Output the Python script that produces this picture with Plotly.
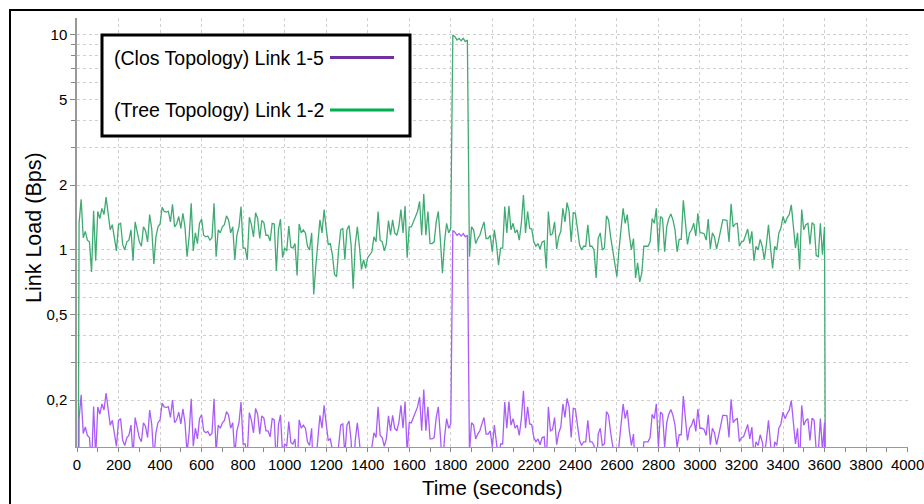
import plotly.graph_objects as go

# Sample times (seconds), one sample every 10 s
time_s = list(range(0, 3620, 10))

# Tree topology, link 1-2 load (Bps)
tree_link_1_2 = (
    [0.0]
    + [1.33, 1.72, 1.14, 1.22, 1.11, 1.09, 0.79, 1.52, 0.89, 1.51,
       1.40, 1.56, 1.46, 1.76, 1.48, 1.24, 1.31, 1.11, 0.99, 1.31,
       1.33, 1.06, 1.00, 1.09, 1.11, 1.24, 0.89, 1.35, 1.20, 1.09,
       1.04, 1.28, 1.23, 1.09, 1.46, 1.25, 0.86, 1.15, 1.28, 1.32,
       1.58, 1.51, 1.50, 1.51, 1.35, 1.63, 1.28, 1.32, 1.43, 1.26,
       1.48, 1.28, 0.93, 1.15, 1.65, 0.99, 1.20, 1.07, 1.33, 1.39,
       1.17, 1.15, 1.16, 1.11, 1.14, 1.65, 0.93, 1.24, 1.20, 1.28,
       1.31]
    + [1.44, 1.38, 1.20, 1.28, 0.90, 1.17, 1.28, 1.59, 1.02, 1.02,
       0.90, 1.42, 1.31, 1.15, 1.49, 1.40, 1.13, 1.37, 1.34, 1.17,
       1.17, 1.10, 1.33, 1.32, 0.80, 1.24, 1.39, 0.92, 1.02, 0.99,
       1.29, 1.03, 1.02, 1.07, 0.76, 1.32, 1.20, 1.24, 1.20, 1.04,
       1.00, 1.20, 0.62, 0.84, 1.13, 1.38, 1.20, 1.54, 1.26, 1.06,
       1.07, 0.95, 0.77, 0.75, 1.00, 1.24, 1.26, 0.90, 1.24, 1.30,
       1.06, 0.66, 1.06, 1.28, 1.04, 0.81, 0.90, 0.82, 0.92, 0.95,
       0.98, 1.15]
    + [1.09, 1.51, 1.11, 1.09, 0.99, 1.07, 1.37, 1.17, 1.38, 1.20,
       1.17, 1.28, 1.54, 1.20, 1.60, 0.92, 1.28, 1.28, 1.35, 1.43,
       1.51, 1.68, 1.17, 1.82, 1.17, 1.51, 1.07, 1.07, 1.09, 1.35,
       1.51, 1.11, 0.78, 1.09, 1.33, 1.20, 1.26]
    + [10.0, 9.82, 9.48, 9.65, 9.41, 9.65, 9.32, 9.48]
    + [0.93, 1.28, 1.24, 1.07, 1.13, 1.17, 1.26, 1.35, 1.13, 1.13,
       1.17, 0.98, 1.24, 1.06, 0.85, 1.02, 1.02, 1.59, 1.20, 1.60,
       1.24, 1.33, 1.20, 1.24, 1.11, 1.33, 1.80, 1.20, 1.51, 1.26,
       1.25, 1.09, 1.04, 1.07, 1.01, 1.09, 1.10, 0.82, 1.51, 1.17,
       1.19, 1.35, 1.01, 1.15, 1.22, 1.56, 1.35, 1.66, 1.51, 1.09,
       1.49, 1.48, 1.26, 1.06, 1.00, 1.04, 1.04, 1.31, 1.04, 1.04,
       1.00, 0.74, 1.13, 1.20, 1.00, 1.02, 1.44, 1.38, 1.15, 1.00,
       0.90, 0.75, 1.00, 1.28, 1.56, 1.33, 1.46, 1.17, 1.00, 1.13,
       0.74, 0.87, 0.71, 0.78, 1.04, 1.04, 1.04, 1.09, 1.40, 1.33,
       1.56, 0.98, 1.43, 1.40, 0.98, 1.28, 1.40, 1.47, 1.38, 1.24]
    + [0.98, 1.12, 1.12, 1.70, 1.28, 1.06, 1.20, 1.24, 1.33, 1.16,
       1.48, 1.20, 1.20, 1.19, 1.11, 1.39, 1.01, 1.20, 1.15, 1.01,
       1.11, 1.26, 1.38, 1.38, 1.37, 1.09, 1.64, 1.28, 1.32, 1.33,
       1.04, 1.09, 1.10, 1.17, 1.25, 1.07, 1.22, 0.89, 1.04, 1.00,
       1.12, 1.04, 0.90, 1.06, 1.31, 1.02, 0.82, 1.04, 1.00, 1.20,
       1.26, 1.43, 1.33, 1.41, 1.46, 1.62, 1.24, 1.02, 1.20, 0.81,
       1.54, 1.24, 1.31, 1.33, 1.06, 1.34, 1.31, 0.94, 0.93, 1.33,
       0.95, 1.28]
    + [0.0]
)

# Clos topology, link 1-5 load (Bps)
clos_link_1_5 = (
    [0.0]
    + [0.164, 0.212, 0.140, 0.150, 0.137, 0.134, 0.097, 0.187, 0.109, 0.186,
       0.172, 0.192, 0.180, 0.216, 0.182, 0.153, 0.161, 0.137, 0.122, 0.161,
       0.164, 0.130, 0.123, 0.134, 0.137, 0.153, 0.109, 0.166, 0.148, 0.134,
       0.128, 0.157, 0.151, 0.134, 0.180, 0.154, 0.106, 0.141, 0.157, 0.162,
       0.194, 0.186, 0.185, 0.186, 0.166, 0.200, 0.157, 0.162, 0.176, 0.155,
       0.182, 0.157, 0.114, 0.141, 0.203, 0.122, 0.148, 0.132, 0.164, 0.171,
       0.144, 0.141, 0.143, 0.137, 0.140, 0.203, 0.114, 0.153, 0.148, 0.157,
       0.161]
    + [0.177, 0.170, 0.148, 0.157, 0.111, 0.144, 0.157, 0.196, 0.125, 0.125,
       0.111, 0.175, 0.161, 0.141, 0.183, 0.172, 0.139, 0.169, 0.165, 0.144,
       0.144, 0.135, 0.164, 0.162, 0.098, 0.153, 0.171, 0.113, 0.125, 0.122,
       0.159, 0.127, 0.125, 0.132, 0.093, 0.162, 0.148, 0.153, 0.148, 0.128,
       0.123, 0.148, 0.076, 0.103, 0.139, 0.170, 0.148, 0.189, 0.155, 0.130,
       0.132, 0.117, 0.095, 0.092, 0.123, 0.153, 0.155, 0.111, 0.153, 0.160,
       0.130, 0.081, 0.130, 0.157, 0.128, 0.100, 0.111, 0.101, 0.113, 0.117,
       0.121, 0.141]
    + [0.134, 0.186, 0.137, 0.134, 0.122, 0.132, 0.169, 0.144, 0.170, 0.148,
       0.144, 0.157, 0.189, 0.148, 0.197, 0.113, 0.157, 0.157, 0.166, 0.176,
       0.186, 0.207, 0.144, 0.224, 0.144, 0.186, 0.132, 0.132, 0.134, 0.166,
       0.186, 0.137, 0.096, 0.134, 0.164, 0.148, 0.155]
    + [1.23, 1.21, 1.17, 1.19, 1.16, 1.19, 1.15, 1.17]
    + [0.114, 0.157, 0.153, 0.132, 0.139, 0.144, 0.155, 0.166, 0.139, 0.139,
       0.144, 0.121, 0.153, 0.130, 0.105, 0.125, 0.125, 0.196, 0.148, 0.197,
       0.153, 0.164, 0.148, 0.153, 0.137, 0.164, 0.221, 0.148, 0.186, 0.155,
       0.154, 0.134, 0.128, 0.132, 0.124, 0.134, 0.135, 0.101, 0.186, 0.144,
       0.146, 0.166, 0.124, 0.141, 0.150, 0.192, 0.166, 0.204, 0.186, 0.134,
       0.183, 0.182, 0.155, 0.130, 0.123, 0.128, 0.128, 0.161, 0.128, 0.128,
       0.123, 0.091, 0.139, 0.148, 0.123, 0.125, 0.177, 0.170, 0.141, 0.123,
       0.111, 0.092, 0.123, 0.157, 0.192, 0.164, 0.180, 0.144, 0.123, 0.139,
       0.091, 0.107, 0.087, 0.096, 0.128, 0.128, 0.128, 0.134, 0.172, 0.164,
       0.192, 0.121, 0.176, 0.172, 0.121, 0.157, 0.172, 0.181, 0.170, 0.153]
    + [0.121, 0.138, 0.138, 0.209, 0.157, 0.130, 0.148, 0.153, 0.164, 0.143,
       0.182, 0.148, 0.148, 0.146, 0.137, 0.171, 0.124, 0.148, 0.141, 0.124,
       0.137, 0.155, 0.170, 0.170, 0.169, 0.134, 0.202, 0.157, 0.162, 0.164,
       0.128, 0.134, 0.135, 0.144, 0.154, 0.132, 0.150, 0.109, 0.128, 0.123,
       0.138, 0.128, 0.111, 0.130, 0.161, 0.125, 0.101, 0.128, 0.123, 0.148,
       0.155, 0.176, 0.164, 0.173, 0.180, 0.199, 0.153, 0.125, 0.148, 0.100,
       0.189, 0.153, 0.161, 0.164, 0.130, 0.165, 0.161, 0.116, 0.114, 0.164,
       0.117, 0.157]
    + [0.0]
)

# Axis ticks
x_ticks = list(range(0, 4001, 200))
y_ticks = [0.2, 0.5, 1, 2, 5, 10]
y_tick_text = ["0,2", "0,5", "1", "2", "5", "10"]
y_minor = [0.3, 0.4, 0.6, 0.7, 0.8, 0.9, 3, 4, 6, 7, 8, 9]

series_names = ["(Clos Topology) Link 1-5", "(Tree Topology) Link 1-2"]
legend_colors = ["#7030A0", "#00B050"]

FONT = "Liberation Sans, Arial, sans-serif"
LOG_FLOOR = 1e-3  # idle (zero) samples drawn below the visible range


def for_log(values):
    return [v if v > 0 else LOG_FLOOR for v in values]


fig = go.Figure()
fig.add_trace(go.Scatter(
    x=time_s, y=for_log(tree_link_1_2), mode="lines",
    line=dict(color="#3FAA72", width=1.3), name=series_names[1],
    showlegend=False))
fig.add_trace(go.Scatter(
    x=time_s, y=for_log(clos_link_1_5), mode="lines",
    line=dict(color="#A95CF8", width=1.3), name=series_names[0],
    showlegend=False))

W, H = 924, 504
L, R, T, B = 77, 16, 18, 57
PW, PH = W - L - R, H - T - B


def px(xp):
    return (xp - L) / PW


def py(yp):
    return (H - B - yp) / PH


shapes = [
    # outer frame
    dict(type="rect", xref="paper", yref="paper",
         x0=px(10), x1=px(940), y0=py(520), y1=py(10),
         line=dict(color="black", width=2), layer="above"),
    # legend box
    dict(type="rect", xref="paper", yref="paper",
         x0=px(102), x1=px(410), y0=py(136), y1=py(35),
         line=dict(color="black", width=3), fillcolor="white", layer="above"),
]
annotations = []
for i, (name, col) in enumerate(zip(series_names, legend_colors)):
    yc = [57.5, 110][i]
    shapes.append(dict(type="line", xref="paper", yref="paper",
                       x0=px(330), x1=px(394), y0=py(yc), y1=py(yc),
                       line=dict(color=col, width=3), layer="above"))
    annotations.append(dict(text=name, xref="paper", yref="paper",
                            x=px(112), y=py(yc), xanchor="left", yanchor="middle",
                            showarrow=False,
                            font=dict(family=FONT, size=19.5, color="black")))

annotations.append(dict(text="Link Load (Bps)", xref="paper", yref="paper",
                        x=px(34), y=py(228), textangle=-90,
                        xanchor="center", yanchor="middle", showarrow=False,
                        font=dict(family=FONT, size=21.5, color="black")))
annotations.append(dict(text="Time (seconds)", xref="paper", yref="paper",
                        x=px(492), y=py(487), xanchor="center", yanchor="middle",
                        showarrow=False,
                        font=dict(family=FONT, size=20.5, color="black")))

grid = dict(gridcolor="#CFCFCF", griddash="dot", gridwidth=1)

fig.update_layout(
    width=W, height=H,
    margin=dict(l=L, r=R, t=T, b=B, autoexpand=False),
    paper_bgcolor="white", plot_bgcolor="white",
    font=dict(family=FONT, color="black"),
    shapes=shapes, annotations=annotations,
    xaxis=dict(
        range=[0, 4002], tickvals=x_ticks, ticktext=[str(v) for v in x_ticks],
        tickfont=dict(size=15), showgrid=True, **grid,
        ticks="outside", ticklen=4, tickcolor="#888888",
        ticklabeloverflow="allow", automargin=False,
        showline=True, linecolor="#999999", linewidth=1, zeroline=False,
        minor=dict(dtick=100, ticks="outside", ticklen=4, tickcolor="#888888",
                   showgrid=False),
    ),
    yaxis=dict(
        type="log", range=[-0.917, 1.079], automargin=False,
        tickvals=y_ticks, ticktext=y_tick_text, tickfont=dict(size=15),
        showgrid=True, **grid,
        ticks="outside", ticklen=5, tickcolor="#888888",
        showline=True, linecolor="#999999", linewidth=1.5, zeroline=False,
        minor=dict(tickvals=y_minor, ticks="outside", ticklen=4,
                   tickcolor="#888888", showgrid=True,
                   gridcolor="#CFCFCF", griddash="dot", gridwidth=1),
    ),
)

fig.write_html("out.html")
